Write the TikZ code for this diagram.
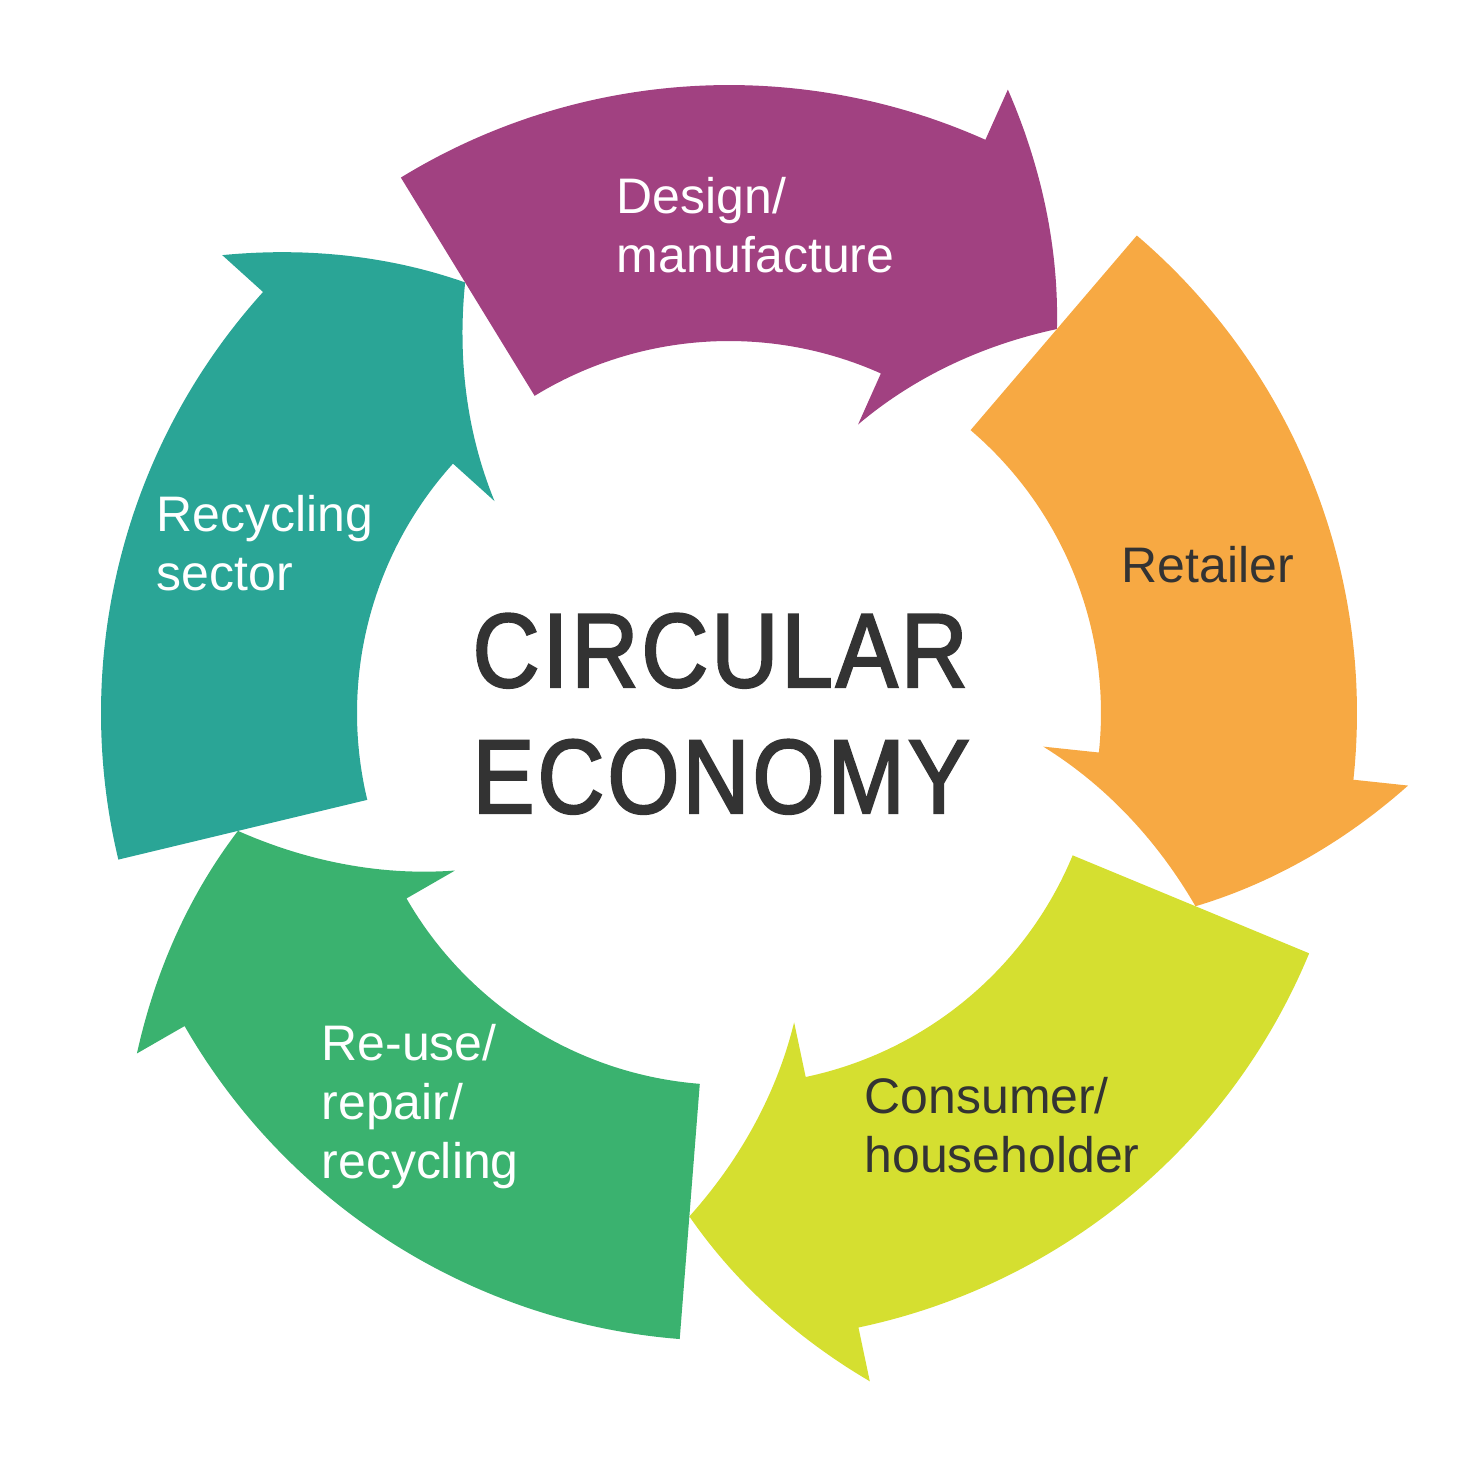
\documentclass[tikz,border=0pt]{standalone}
\usepackage{fontspec}
\setmainfont{Liberation Sans}
\newfontfamily\titlefont[FakeStretch=0.88, FakeBold=2.2, LetterSpace=3]{Liberation Sans}
\usepackage{xcolor}
\usepackage{tikz}

\definecolor{designpurple}{HTML}{A14181}
\definecolor{retailorange}{HTML}{F7A943}
\definecolor{consumeryellow}{HTML}{D5DF30}
\definecolor{reusegreen}{HTML}{3AB26F}
\definecolor{recycleteal}{HTML}{2AA596}
\definecolor{darktext}{HTML}{333333}

\tikzset{
  stagetext/.style={font=\fontsize{14.2}{16.65}\selectfont, align=left, anchor=base west, inner sep=0pt},
  titletext/.style={font=\titlefont\fontsize{29.9}{35.85}\selectfont, text=darktext, align=left, anchor=base west, inner sep=0pt}
}

\begin{document}
\begin{tikzpicture}[x=0.01cm, y=0.01cm]
\useasboundingbox (-729,-746) rectangle (730,713);

% Ring of arrows, clockwise, one for each stage
\foreach \t/\col in {121.5/designpurple, 49.5/retailorange, -22.5/consumeryellow, -94.5/reusegreen, -166.5/recycleteal} {
    \fill[\col] (\t:628) arc[start angle=\t, end angle=\t-55.6, radius=628]
        -- ({\t-55.6}:683)
        -- plot[domain=0:1, samples=30] ({\t-55.6-16.4*\x}:{683-178*\x})
        -- plot[domain=0:1, samples=30] ({\t-72+16.4*\x}:{505-189*\x})
        -- ({\t-55.6}:372) arc[start angle=\t-55.6, end angle=\t, radius=372]
        -- cycle;
}

% Stage labels (anchored on the last line)
\node[stagetext, text=white] (design) at (-113,441) {Design/\\manufacture};
\node[stagetext, text=darktext] (retailer) at (392,131) {Retailer};
\node[stagetext, text=darktext] (consumer) at (135,-459) {Consumer/\\householder};
\node[stagetext, text=white] (reuse) at (-408,-465) {Re-use/\\repair/\\recycling};
\node[stagetext, text=white] (recycling) at (-573,123) {Recycling\\sector};

% Centre title
\node[titletext] (title) at (-257,-100) {CIRCULAR\\ECONOMY};
\end{tikzpicture}
\end{document}
